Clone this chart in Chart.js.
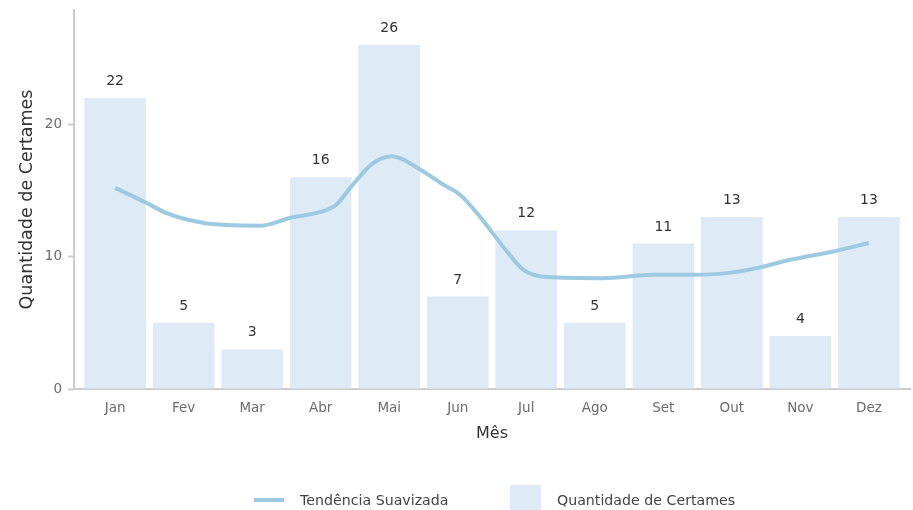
<!DOCTYPE html>
<html lang="pt">
<head>
<meta charset="utf-8">
<script src="https://cdn.jsdelivr.net/npm/chart.js@4"></script>
<style>
    body { margin: 0; background: #fff; }
    .wrap { position: relative; width: 913px; height: 510px; }
    .legend { position: absolute; top: 487px; left: 0; width: 913px; height: 26px;
              font-family: 'DejaVu Sans', sans-serif; font-size: 14.2px; color: #444; }
    .legend span { position: absolute; top: 0; line-height: 26px; white-space: nowrap; }
    .legend .sw-line { position: absolute; left: 254px; top: 11px; width: 30px; height: 4px; background: rgb(158, 202, 225); }
    .legend .sw-box { position: absolute; left: 510px; top: -2px; width: 31px; height: 26px; background: rgb(222, 235, 247); }
</style>
</head>
<body>
<div class="wrap">
    <canvas id="chart" width="913" height="510"></canvas>
    <div class="legend">
        <div class="sw-line"></div><span id="lgLine" style="left:300px"></span>
        <div class="sw-box"></div><span id="lgBar" style="left:557px"></span>
    </div>
</div>
<script>
// Monthly counts
const months = ['Jan', 'Fev', 'Mar', 'Abr', 'Mai', 'Jun', 'Jul', 'Ago', 'Set', 'Out', 'Nov', 'Dez'];
const certames = [22, 5, 3, 16, 26, 7, 12, 5, 11, 13, 4, 13];

// Smoothed trend (month position, value)
const trendX = [1.0, 1.46, 1.75, 2.24, 2.63, 3.12, 3.55, 4.06, 4.23, 4.43, 4.77, 5.04, 5.45, 5.79, 6.03, 6.32, 6.66, 6.96, 7.3, 8.12, 8.85, 9.44, 9.92, 10.36, 10.85, 11.48, 12.0];
const trendY = [15.2, 14.06, 13.3, 12.6, 12.39, 12.35, 12.93, 13.48, 13.94, 15.2, 17.09, 17.6, 16.6, 15.45, 14.7, 13.05, 10.78, 9.0, 8.46, 8.38, 8.64, 8.64, 8.76, 9.14, 9.77, 10.4, 11.04];

const yTicks = [0, 10, 20];

const labelTrend = 'Tendência Suavizada';
const labelBars = 'Quantidade de Certames';

document.getElementById('lgLine').textContent = labelTrend;
document.getElementById('lgBar').textContent = labelBars;

Chart.defaults.font.family = "'DejaVu Sans', sans-serif";
Chart.defaults.color = '#666';

// value labels on top of the bars
const barLabels = {
    id: 'barLabels',
    afterDatasetsDraw(chart) {
        const { ctx } = chart;
        const meta = chart.getDatasetMeta(1);
        ctx.save();
        ctx.font = "14px 'DejaVu Sans', sans-serif";
        ctx.fillStyle = '#333';
        ctx.textAlign = 'center';
        ctx.textBaseline = 'middle';
        meta.data.forEach((bar, i) => {
            ctx.fillText(String(certames[i]), bar.x, bar.y - 16.5);
        });
        ctx.restore();
    }
};

new Chart(document.getElementById('chart'), {
    data: {
        datasets: [
            {
                type: 'line',
                label: labelTrend,
                data: trendX.map((x, i) => ({ x, y: trendY[i] })),
                borderColor: 'rgb(158, 202, 225)',
                borderWidth: 4,
                pointRadius: 0,
                cubicInterpolationMode: 'monotone',
                order: 0
            },
            {
                type: 'bar',
                label: labelBars,
                data: certames.map((v, i) => ({ x: i + 1, y: v })),
                backgroundColor: 'rgb(222, 235, 247)',
                categoryPercentage: 1,
                barPercentage: 0.9,
                order: 1
            }
        ]
    },
    options: {
        responsive: false,
        animation: false,
        layout: { padding: { top: 10, right: 3, left: 0, bottom: 0 } },
        plugins: {
            legend: { display: false },
            tooltip: { enabled: false }
        },
        scales: {
            x: {
                type: 'linear',
                min: 0.4,
                max: 12.6,
                offset: false,
                afterFit: (s) => { s.height = 121; },
                afterBuildTicks: (s) => { s.ticks = months.map((m, i) => ({ value: i + 1 })); },
                ticks: {
                    callback: (v) => months[v - 1],
                    font: { size: 13.5 },
                    color: '#6b6b6b',
                    padding: 11,
                    maxRotation: 0,
                    autoSkip: false
                },
                grid: { display: true, drawOnChartArea: false, drawTicks: false },
                border: { display: true, color: '#cccccc', width: 2 },
                title: {
                    display: true,
                    text: 'Mês',
                    font: { size: 16 },
                    color: '#333',
                    padding: { top: 4, bottom: 67 }
                }
            },
            y: {
                min: 0,
                max: 28.65,
                afterFit: (s) => { s.width = 74; s.paddingTop = 0; s.paddingBottom = 0; },
                afterBuildTicks: (s) => { s.ticks = yTicks.map(v => ({ value: v })); },
                ticks: {
                    font: { size: 13.5 },
                    color: '#6b6b6b',
                    padding: 6
                },
                grid: { display: true, drawOnChartArea: false, drawTicks: true, tickLength: 6, color: '#cccccc', tickWidth: 2 },
                border: { display: true, color: '#cccccc', width: 2 },
                title: {
                    display: true,
                    text: 'Quantidade de Certames',
                    font: { size: 17.5 },
                    color: '#333',
                    padding: { top: 17, bottom: 0 }
                }
            }
        }
    },
    plugins: [barLabels]
});
</script>
</body>
</html>
